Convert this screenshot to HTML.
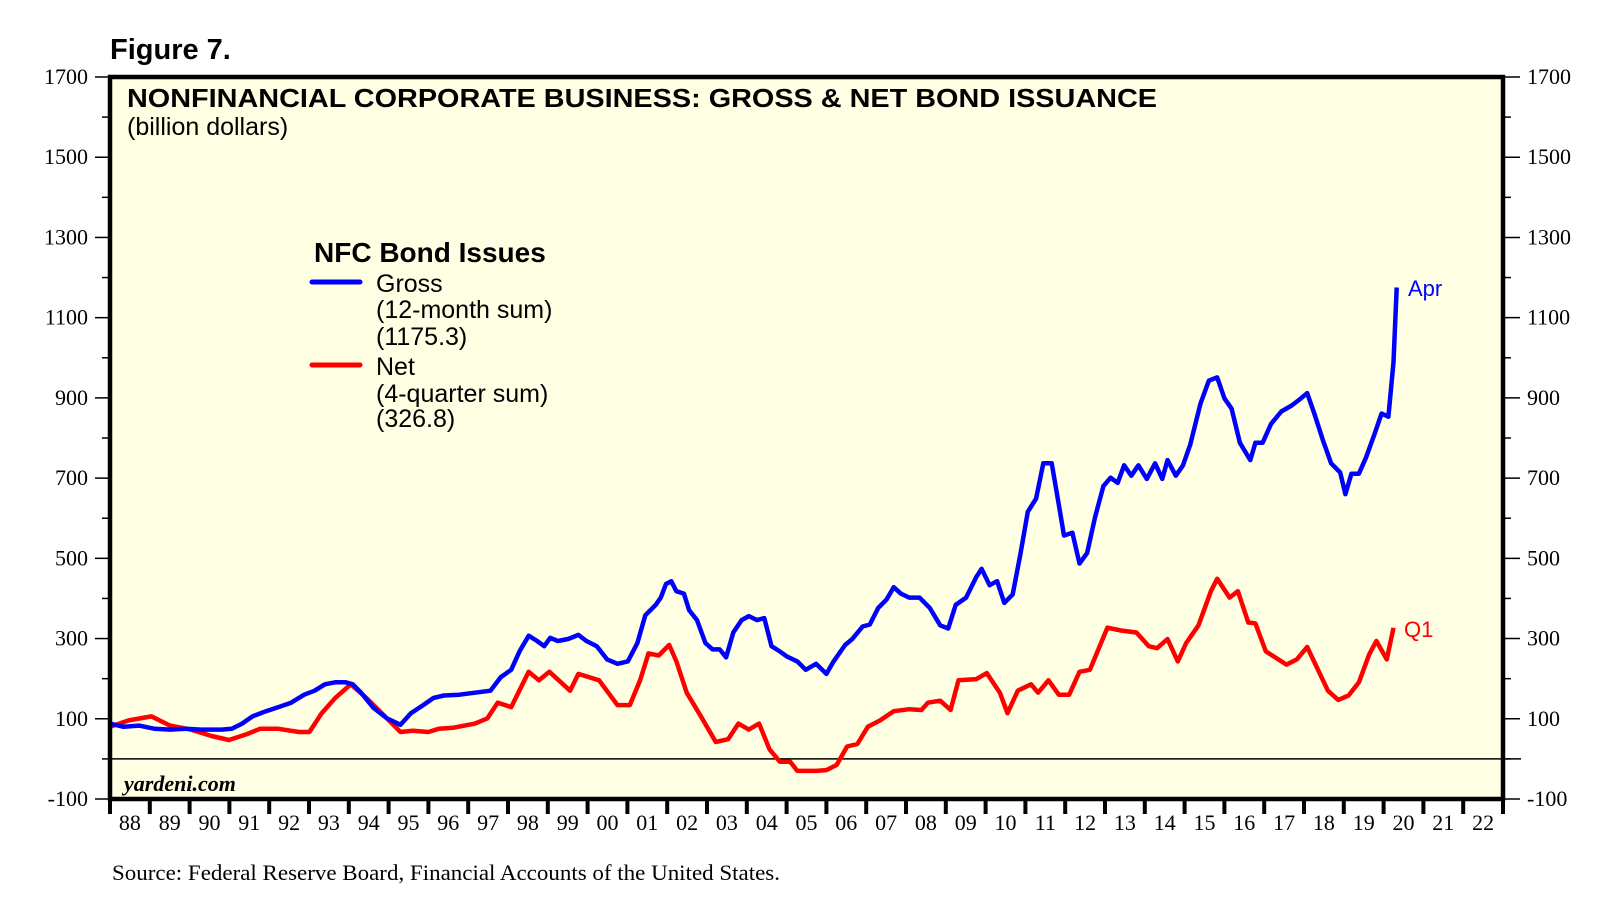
<!DOCTYPE html>
<html><head><meta charset="utf-8"><style>
html,body{margin:0;padding:0;background:#fff;}
svg{display:block;}
</style></head><body>
<svg id="chart" width="1619" height="924" viewBox="0 0 1619 924" xmlns="http://www.w3.org/2000/svg">
<text x="110" y="59" font-family="Liberation Sans, sans-serif" font-weight="bold" font-size="29">Figure 7.</text>
<rect x="110" y="77" width="1393" height="722" fill="#ffffe4"/>
<g id="grid"></g>
<g id="series"></g>
<rect x="110" y="77" width="1393" height="722" fill="none" stroke="#000" stroke-width="4.5"/>
<text x="127" y="107" font-family="Liberation Sans, sans-serif" font-weight="bold" font-size="26" textLength="1030" lengthAdjust="spacingAndGlyphs">NONFINANCIAL CORPORATE BUSINESS: GROSS &amp; NET BOND ISSUANCE</text>
<text x="127" y="135" font-family="Liberation Sans, sans-serif" font-size="25">(billion dollars)</text>
<g font-family="Liberation Sans, sans-serif">
<text x="314" y="262" font-weight="bold" font-size="28">NFC Bond Issues</text>
<line x1="312" y1="282" x2="360" y2="282" stroke="#0000ff" stroke-width="5" stroke-linecap="round"/>
<text x="376" font-size="25"><tspan x="376" y="292">Gross</tspan><tspan x="376" y="318">(12-month sum)</tspan><tspan x="376" y="345">(1175.3)</tspan></text>
<line x1="312" y1="365" x2="360" y2="365" stroke="#ff0000" stroke-width="5" stroke-linecap="round"/>
<text x="376" font-size="25"><tspan x="376" y="375">Net</tspan><tspan x="376" y="402">(4-quarter sum)</tspan><tspan x="376" y="427">(326.8)</tspan></text>
</g>
<text x="1408" y="296" font-family="Liberation Sans, sans-serif" font-size="22" fill="#0000ff">Apr</text>
<text x="1404" y="637" font-family="Liberation Sans, sans-serif" font-size="22" fill="#ff0000">Q1</text>
<text x="124" y="791" font-family="Liberation Serif, serif" font-style="italic" font-weight="bold" font-size="22">yardeni.com</text>
<text x="112" y="880" font-family="Liberation Serif, serif" font-size="22" textLength="668" lengthAdjust="spacingAndGlyphs">Source: Federal Reserve Board, Financial Accounts of the United States.</text>
</svg>
<script>
const yTicks = [-100,100,300,500,700,900,1100,1300,1500,1700];
const yMinor = [0,200,400,600,800,1000,1200,1400,1600];
const years = ['88','89','90','91','92','93','94','95','96','97','98','99','00','01','02','03','04','05','06','07','08','09','10','11','12','13','14','15','16','17','18','19','20','21','22'];
const grossDates = [1988.00,1988.34,1988.73,1989.12,1989.51,1989.90,1990.29,1990.81,1991.06,1991.32,1991.58,1991.92,1992.23,1992.55,1992.88,1993.14,1993.40,1993.66,1993.92,1994.10,1994.31,1994.62,1994.96,1995.30,1995.56,1995.87,1996.13,1996.39,1996.78,1997.17,1997.56,1997.82,1998.08,1998.29,1998.52,1998.73,1998.91,1999.06,1999.25,1999.51,1999.77,1999.97,2000.23,2000.49,2000.75,2001.01,2001.25,2001.45,2001.71,2001.84,2001.97,2002.10,2002.23,2002.42,2002.55,2002.75,2002.96,2003.14,2003.32,2003.48,2003.66,2003.87,2004.05,2004.26,2004.44,2004.62,2004.83,2005.01,2005.27,2005.48,2005.74,2006.00,2006.18,2006.47,2006.65,2006.91,2007.09,2007.30,2007.51,2007.69,2007.87,2008.08,2008.34,2008.60,2008.86,2009.06,2009.25,2009.51,2009.77,2009.90,2010.10,2010.29,2010.47,2010.68,2010.88,2011.06,2011.27,2011.45,2011.66,2011.84,2011.97,2012.18,2012.36,2012.55,2012.75,2012.96,2013.14,2013.32,2013.48,2013.66,2013.84,2014.05,2014.26,2014.44,2014.57,2014.78,2014.96,2015.14,2015.40,2015.61,2015.82,2016.00,2016.18,2016.39,2016.65,2016.78,2016.96,2017.17,2017.43,2017.69,2017.90,2018.08,2018.26,2018.47,2018.68,2018.91,2019.04,2019.19,2019.38,2019.56,2019.77,2019.95,2020.12,2020.25,2020.33];
const grossValues = [88,80,83,75,73,75,73,73,75,88,106,119,129,140,160,170,186,191,191,186,165,127,101,85,114,134,152,158,160,165,170,204,222,268,307,294,281,302,294,299,309,294,281,248,237,243,289,358,384,402,436,443,418,412,371,346,289,273,273,253,315,346,356,346,351,281,268,255,243,222,237,212,243,284,299,330,335,376,397,428,412,402,402,376,333,325,384,402,454,474,433,443,389,410,513,616,649,737,737,634,557,564,487,513,603,680,701,688,732,706,732,698,737,698,745,706,732,783,886,943,951,899,873,788,745,788,788,835,866,881,897,912,861,796,737,714,660,711,711,752,809,861,853,989,1175.3];
const netDates = [1988.00,1988.47,1989.04,1989.51,1990.03,1990.55,1990.99,1991.45,1991.77,1992.23,1992.75,1993.01,1993.32,1993.66,1994.05,1994.44,1994.83,1995.30,1995.61,1996.00,1996.26,1996.65,1997.17,1997.48,1997.74,1998.08,1998.52,1998.78,1999.04,1999.56,1999.77,2000.29,2000.75,2001.06,2001.32,2001.53,2001.79,2002.05,2002.23,2002.49,2002.83,2003.22,2003.53,2003.79,2004.05,2004.31,2004.57,2004.83,2005.09,2005.27,2005.74,2006.00,2006.26,2006.52,2006.78,2007.04,2007.35,2007.69,2008.08,2008.39,2008.55,2008.86,2009.12,2009.32,2009.77,2010.03,2010.36,2010.55,2010.81,2011.14,2011.32,2011.58,2011.84,2012.10,2012.36,2012.62,2013.06,2013.40,2013.79,2014.10,2014.31,2014.57,2014.83,2015.04,2015.35,2015.66,2015.82,2016.13,2016.34,2016.60,2016.78,2017.04,2017.56,2017.82,2018.08,2018.60,2018.86,2019.12,2019.38,2019.64,2019.82,2020.08,2020.25];
const netValues = [80,96,106,83,73,57,47,62,75,75,67,67,114,152,186,152,114,67,70,67,75,78,88,101,140,129,217,196,217,170,212,196,134,134,196,263,258,284,243,165,109,42,49,88,73,88,24,-7,-7,-30,-30,-28,-15,31,37,80,96,119,124,122,140,145,122,196,199,214,165,114,170,186,165,196,160,160,217,222,327,320,315,281,276,299,243,289,333,418,449,402,418,340,338,268,235,248,279,170,147,158,191,261,294,248,326.8];

const NS='http://www.w3.org/2000/svg';
const L=110,R=1503,T=77,B=799,Y0=1988,Y1=2023,VMIN=-100,VMAX=1700;
function xScale(t){return L+(t-Y0)/(Y1-Y0)*(R-L);}
function yScale(v){return T+(VMAX-v)/(VMAX-VMIN)*(B-T);}
function mk(tag,attrs,parent){const e=document.createElementNS(NS,tag);for(const k in attrs)e.setAttribute(k,attrs[k]);parent.appendChild(e);return e;}
const svg=document.getElementById('chart');
const grid=document.getElementById('grid');
const series=document.getElementById('series');
const z=mk('line',{x1:L,x2:R+18,y1:yScale(0),y2:yScale(0),stroke:'#000','stroke-width':1.5},grid);


yTicks.forEach(v=>{
  const y=yScale(v);
  const t1=mk('line',{x1:L-15,x2:L,y1:y,y2:y,stroke:'#000','stroke-width':1.5},svg);
  
  
  const t2=mk('line',{x1:R,x2:R+17,y1:y,y2:y,stroke:'#000','stroke-width':1.5},svg);
  
  
  const a=mk('text',{x:L-22,y:y+7,'text-anchor':'end','font-family':'Liberation Serif, serif','font-size':22},svg);
  a.textContent=v;
  
  
  const b=mk('text',{x:R+24,y:y+7,'font-family':'Liberation Serif, serif','font-size':22},svg);
  b.textContent=v;
  
  
});
yMinor.forEach(v=>{
  const y=yScale(v);
  const t1=mk('line',{x1:L-8,x2:L,y1:y,y2:y,stroke:'#000','stroke-width':1.5},svg);
  
  
  const t2=mk('line',{x1:R,x2:R+8,y1:y,y2:y,stroke:'#000','stroke-width':1.5},svg);
  
  
});
for(let i=0;i<=years.length;i++){
  const x=xScale(Y0+i);
  const t=mk('line',{x1:x,x2:x,y1:B,y2:B+15,stroke:'#000','stroke-width':4},svg);
  
  
}
years.forEach((lab,i)=>{
  const t=mk('text',{x:xScale(Y0+i+0.5),y:830,'text-anchor':'middle','font-family':'Liberation Serif, serif','font-size':22},svg);
  t.textContent=lab;
  
  
});
function path(dates,vals){return dates.map((d,i)=>(i?'L':'M')+xScale(d).toFixed(1)+' '+yScale(vals[i]).toFixed(1)).join(' ');}
const net=mk('path',{d:path(netDates,netValues),fill:'none',stroke:'#ff0000','stroke-width':4.5,'stroke-linejoin':'round'},series);


const gross=mk('path',{d:path(grossDates,grossValues),fill:'none',stroke:'#0000ff','stroke-width':4.5,'stroke-linejoin':'round'},series);


</script>
</body></html>
